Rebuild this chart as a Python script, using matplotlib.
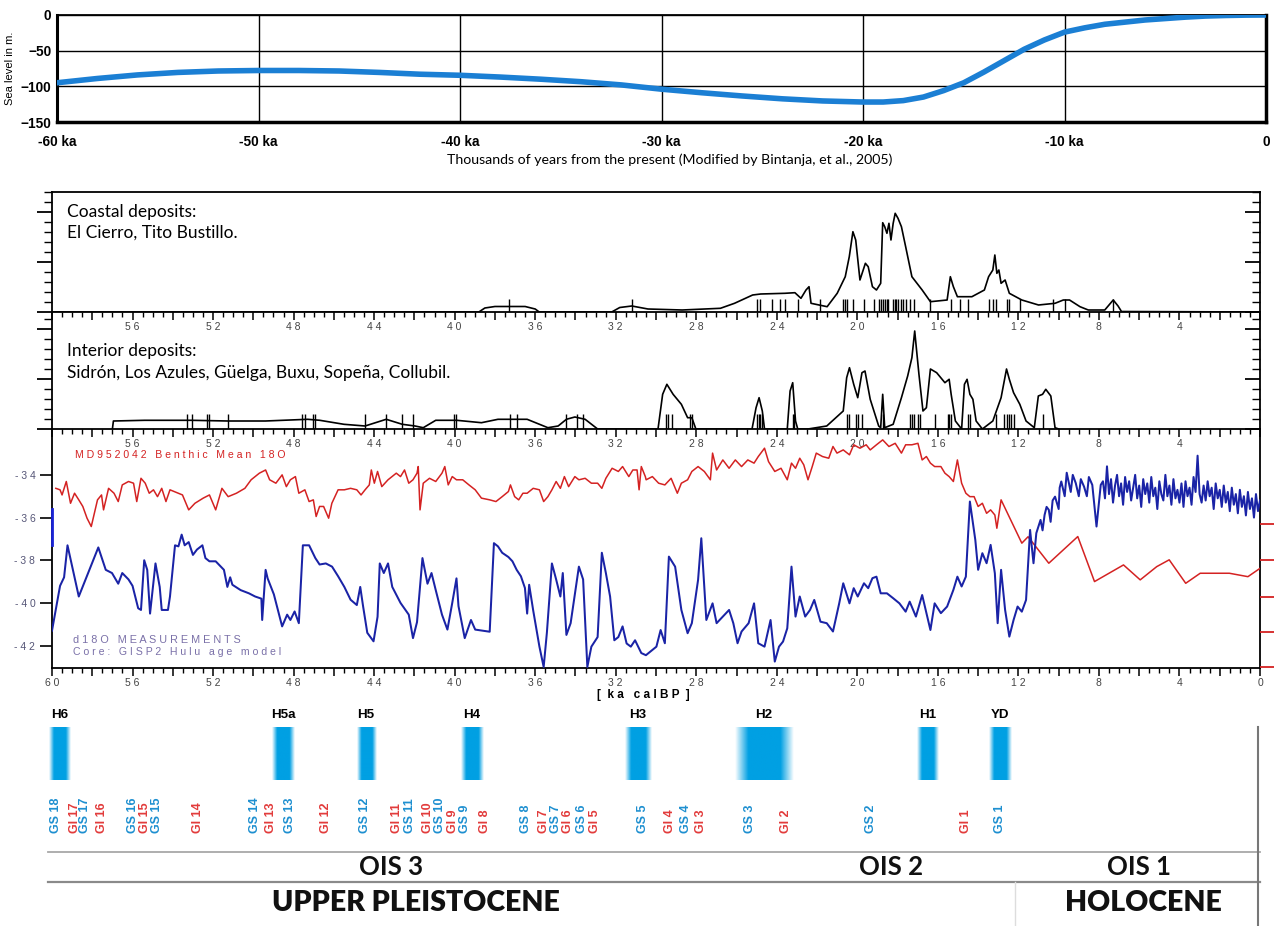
import numpy as np
import matplotlib
matplotlib.use("Agg")
import matplotlib.pyplot as plt
from matplotlib.ticker import MultipleLocator, FuncFormatter
from matplotlib.colors import to_rgb

# ---------------- DATA ----------------
# Sea level (Bintanja et al. 2005), ka (negative = before present), metres
sea_ka = [-60, -58, -56, -54, -52, -50, -48, -46, -44, -42, -40, -38, -36, -34, -32, -30,
          -28, -26, -24, -22, -20, -19, -18, -17, -16, -15, -14, -13, -12, -11, -10,
          -9, -8, -7, -6, -5, -4, -3, -2, -1, 0]
sea_m = [-95, -89, -84, -80.5, -78.5, -77.8, -77.8, -78.5, -80.5, -83, -84.5, -87, -90, -93.5, -98, -104,
         -109, -113.5, -117.5, -120.5, -122, -122, -120, -115, -106, -95, -80, -64, -48, -35, -24,
         -18, -13, -10, -7, -5, -3, -1.5, -0.7, -0.2, 0]
sea_ticks = [-60, -50, -40, -30, -20, -10, 0]
sea_ticklabels = ["-60 ka", "-50 ka", "-40 ka", "-30 ka", "-20 ka", "-10 ka", "0"]

# Coastal deposits: summed probability curve (relative units) and dates (ka cal BP)
coastal_curve = [(60.0, 0), (38.8, 0), (38.5, 0.4), (38.0, 0.55), (36.5, 0.55), (36.0, 0.3), (35.8, 0),
                 (32.2, 0), (31.8, 0.45), (31.2, 0.6), (30.8, 0.45), (30.4, 0.3), (28.7, 0.2), (26.8, 0.37),
                 (26.1, 0.87), (25.2, 1.7), (24.8, 1.8), (23.6, 1.87), (23.1, 1.93), (22.8, 1.37),
                 (22.55, 2.2), (22.4, 2.53), (22.3, 0.87), (21.9, 0.7), (21.5, 0.53), (21.0, 1.87),
                 (20.6, 3.53), (20.4, 5.53), (20.22, 8.03), (20.08, 7.2), (19.87, 3.2), (19.6, 4.87),
                 (19.46, 4.53), (19.25, 2.53), (19.05, 2.2), (18.84, 2.87), (18.74, 8.93), (18.64, 8.53),
                 (18.53, 7.87), (18.43, 8.87), (18.33, 7.2), (18.22, 8.87), (18.12, 9.87), (17.98, 9.37),
                 (17.81, 8.53), (17.6, 6.53), (17.29, 3.53), (16.78, 2.2), (16.37, 1.03), (15.54, 1.2),
                 (15.38, 3.53), (15.23, 2.53), (15.03, 1.53), (14.31, 1.53), (13.69, 2.2), (13.48, 3.53),
                 (13.27, 4.2), (13.17, 5.7), (13.07, 3.87), (12.97, 4.2), (12.86, 2.87), (12.66, 3.2),
                 (12.45, 1.87), (11.83, 1.2), (11.0, 0.7), (10.18, 0.87), (9.77, 1.2), (9.46, 1.2),
                 (8.94, 0.53), (8.53, 0.2), (7.71, 0.2), (7.5, 0.7), (7.29, 1.2), (7.05, 0.6), (6.88, 0.05),
                 (0.0, 0)]
coastal_dates = [37.3, 31.2, 24.96, 24.82, 24.24, 23.83, 23.58, 22.96, 21.83, 20.7, 20.59, 20.49, 20.24,
                 19.67, 19.15, 18.94, 18.8, 18.72, 18.64, 18.55, 18.47, 18.22, 18.14, 18.06, 17.98, 17.85,
                 17.73, 17.56, 17.36, 17.19, 16.37, 15.34, 14.92, 14.51, 13.48, 13.27, 13.11, 12.55, 12.45,
                 11.93, 10.28, 9.67, 7.29]

# Interior deposits
interior_curve = [(57.0, 0), (56.95, 0.8), (55.4, 0.87), (53.1, 0.87), (51.25, 0.8), (49.4, 0.8), (47.3, 0.97),
                  (46.7, 0.87), (45.5, 0.47), (44.45, 0.3), (43.4, 0.97), (42.6, 0.47), (41.97, 0.3),
                  (41.56, 0.13), (40.94, 0.87), (39.9, 0.87), (38.67, 0.63), (37.85, 0.97), (36.4, 0.97),
                  (35.37, 0.13), (34.86, 0.3), (34.45, 0.97), (34.03, 1.2), (33.52, 0.97), (32.9, 0),
                  (29.9, 0), (29.67, 3.47), (29.46, 4.47), (29.15, 3.47), (28.74, 2.47), (28.43, 1.13),
                  (28.22, 1.13), (28.02, 0), (25.23, 0), (25.03, 2.13), (24.88, 3.13), (24.72, 1.8),
                  (24.61, 0), (23.48, 0), (23.34, 3.8), (23.21, 4.63), (23.07, 0.8), (22.96, 0), (22.45, 0),
                  (21.52, 0.3), (20.7, 1.8), (20.53, 5.13), (20.39, 6.13), (20.18, 4.47), (19.98, 3.13),
                  (19.77, 5.63), (19.62, 5.8), (19.36, 2.97), (18.94, 0.3), (18.84, 0.13), (18.74, 3.47),
                  (18.64, 0.13), (18.22, 0.47), (17.81, 3.13), (17.5, 5.3), (17.29, 7.13), (17.15, 9.8),
                  (17.07, 8.13), (16.94, 5.47), (16.74, 1.8), (16.57, 2.13), (16.37, 6.0), (16.06, 5.63),
                  (15.65, 4.63), (15.44, 4.97), (15.34, 3.47), (15.13, 0.8), (14.82, 0), (14.68, 4.47),
                  (14.55, 4.97), (14.41, 3.47), (14.26, 2.97), (14.1, 0.8), (13.79, 0), (13.27, 0.8),
                  (12.86, 3.13), (12.59, 6.0), (12.45, 4.97), (12.24, 3.63), (11.93, 2.47), (11.62, 0.8),
                  (11.21, 0.13), (11.01, 3.3), (10.8, 3.47), (10.64, 3.97), (10.39, 3.3), (10.18, 0.13),
                  (10.0, 0)]
interior_dates = [53.31, 53.06, 52.28, 52.22, 51.25, 47.58, 47.44, 47.02, 46.92, 44.45, 43.42, 42.63, 42.07,
                  40.01, 39.91, 37.23, 36.92, 34.45, 33.93, 33.62, 29.52, 29.4, 29.19, 28.33, 28.22,
                  24.99, 24.9, 24.82, 24.74, 23.21, 23.13, 20.49, 20.39, 20.08, 19.98, 19.77, 18.74,
                  17.4, 17.3, 17.19, 16.99, 16.88, 16.12, 15.5, 15.44, 15.34, 14.51, 14.41, 13.11,
                  12.7, 12.55, 12.45, 12.35, 12.24, 10.8]

# MD952042 benthic d18O (plotted on the displayed scale)
red_benthic = [(59.81, -34.63), (59.6, -34.7), (59.5, -34.94), (59.29, -34.31), (59.08, -35.33), (58.88, -34.86),
               (58.67, -35.17), (58.47, -35.48), (58.26, -36.03), (58.05, -36.42), (57.74, -35.17), (57.54, -34.94),
               (57.44, -35.64), (57.19, -34.63), (56.92, -34.86), (56.71, -35.25), (56.51, -34.47), (56.2, -34.31),
               (55.95, -34.39), (55.79, -35.25), (55.58, -34.16), (55.37, -34.39), (55.17, -34.86), (54.96, -34.7),
               (54.76, -35.02), (54.55, -34.63), (54.34, -35.25), (54.14, -34.7), (53.93, -34.78), (53.52, -34.94),
               (53.21, -35.64), (52.9, -35.33), (52.49, -35.09), (52.18, -34.94), (51.87, -35.64), (51.56, -34.63),
               (51.25, -35.02), (50.84, -34.86), (50.42, -34.63), (50.11, -34.23), (49.7, -33.92), (49.39, -33.77),
               (49.19, -34.23), (48.88, -34.39), (48.57, -34.0), (48.36, -34.55), (48.16, -34.23), (47.91, -34.08),
               (47.74, -34.86), (47.44, -34.7), (47.23, -35.25), (47.02, -35.17), (46.88, -35.95), (46.71, -35.48),
               (46.51, -35.48), (46.26, -36.03), (46.1, -35.33), (45.79, -34.7), (45.48, -34.7), (45.17, -34.63),
               (44.86, -34.7), (44.65, -34.94), (44.45, -34.7), (44.24, -34.47), (44.14, -33.77), (43.99, -34.39),
               (43.83, -33.84), (43.62, -34.55), (43.31, -34.23), (42.9, -33.92), (42.69, -34.08), (42.49, -33.77),
               (42.28, -34.39), (42.07, -34.23), (41.87, -33.92), (41.81, -33.61), (41.72, -35.64), (41.56, -34.39),
               (41.25, -34.16), (40.94, -34.31), (40.63, -33.92), (40.49, -33.61), (40.32, -34.47), (40.12, -34.08),
               (39.91, -34.23), (39.6, -34.23), (39.29, -34.47), (38.98, -34.7), (38.67, -35.09), (38.26, -35.17),
               (37.95, -35.25), (37.64, -35.02), (37.33, -34.78), (37.23, -34.47), (37.02, -35.02), (36.82, -35.17),
               (36.61, -34.86), (36.4, -34.86), (36.1, -34.63), (35.79, -34.7), (35.58, -35.25), (35.37, -35.02),
               (35.17, -34.7), (34.96, -34.31), (34.75, -34.63), (34.55, -34.08), (34.34, -34.55), (34.03, -34.08),
               (33.83, -34.23), (33.52, -34.16), (33.21, -34.39), (32.9, -34.39), (32.69, -34.63), (32.49, -34.16),
               (32.18, -33.69), (31.87, -33.84), (31.66, -33.61), (31.35, -34.08), (31.15, -33.77), (30.94, -33.77),
               (30.84, -34.7), (30.73, -33.61), (30.53, -34.08), (30.49, -34.23), (30.18, -34.08), (29.87, -34.39),
               (29.56, -34.47), (29.25, -34.16), (28.94, -34.86), (28.74, -34.39), (28.43, -34.23), (28.22, -33.84),
               (27.91, -33.61), (27.6, -33.84), (27.3, -34.23), (27.19, -32.98), (26.99, -33.77), (26.68, -33.3),
               (26.37, -33.69), (26.06, -33.3), (25.75, -33.61), (25.44, -33.3), (25.13, -33.45), (24.92, -33.14),
               (24.61, -32.75), (24.41, -33.38), (24.1, -33.84), (23.79, -33.69), (23.48, -34.23), (23.27, -33.45),
               (23.07, -33.69), (22.86, -33.22), (22.66, -33.53), (22.45, -34.23), (22.24, -33.61), (22.04, -32.98),
               (21.73, -33.14), (21.42, -33.22), (21.21, -32.67), (21.01, -32.98), (20.7, -32.83), (20.39, -33.06),
               (20.18, -32.59), (19.87, -32.75), (19.56, -32.59), (19.36, -32.83), (19.05, -32.59), (18.74, -32.36),
               (18.43, -32.67), (18.12, -32.52), (17.81, -32.98), (17.6, -32.59), (17.29, -32.59), (16.99, -32.52),
               (16.78, -33.3), (16.57, -33.14), (16.37, -33.45), (16.16, -33.61), (15.85, -33.61), (15.65, -33.92),
               (15.44, -34.08), (15.23, -34.31), (15.03, -33.3), (14.82, -34.39), (14.61, -34.86), (14.41, -35.02),
               (14.2, -35.02), (14.0, -35.48), (13.79, -35.33), (13.58, -35.8), (13.38, -35.64), (13.17, -35.88),
               (13.07, -36.5), (12.86, -35.17), (11.83, -37.2), (11.52, -36.9), (10.49, -38.14), (9.05, -36.89),
               (8.22, -39.0), (6.78, -38.22), (5.95, -38.92), (5.13, -38.3), (4.51, -37.98), (3.69, -39.08),
               (2.97, -38.61), (1.52, -38.61), (0.6, -38.77), (0.0, -38.38)]
red_right_ticks = [-36.3, -38.0, -39.7, -41.35, -43.0]

# GISP2 d18O (Hulu age model)
blue_gisp2 = [(60.0, -41.3), (59.6, -39.2), (59.4, -38.8), (59.23, -37.3), (58.67, -39.7), (57.7, -37.4),
              (57.33, -38.45), (57.02, -38.6), (56.71, -39.1), (56.51, -38.6), (56.2, -38.9), (56.0, -39.2),
              (55.72, -40.25), (55.58, -40.33), (55.42, -38.0), (55.27, -38.45), (55.13, -40.5), (54.86, -38.15),
              (54.65, -39.25), (54.55, -40.33), (54.24, -40.33), (54.14, -39.7), (53.89, -37.3), (53.72, -37.35),
              (53.56, -36.8), (53.41, -37.3), (53.21, -37.15), (53.0, -37.75), (52.8, -37.5), (52.53, -37.3),
              (52.38, -37.9), (52.18, -38.05), (51.87, -38.05), (51.46, -38.45), (51.29, -39.25), (51.15, -38.8),
              (51.04, -39.15), (50.63, -39.4), (50.22, -39.55), (49.91, -39.7), (49.6, -39.8), (49.56, -40.8),
              (49.39, -38.45), (49.29, -38.85), (48.98, -39.6), (48.57, -41.1), (48.32, -40.55), (48.16, -40.8),
              (47.95, -40.4), (47.74, -40.95), (47.54, -37.3), (47.23, -37.3), (46.92, -37.9), (46.71, -38.2),
              (46.4, -38.15), (46.09, -38.3), (45.79, -38.75), (45.48, -39.25), (45.17, -39.85), (44.86, -40.1),
              (44.69, -39.25), (44.55, -40.15), (44.34, -41.4), (44.03, -41.8), (43.83, -40.65), (43.72, -38.15),
              (43.52, -38.6), (43.31, -38.15), (43.1, -39.25), (42.69, -40.0), (42.28, -40.55), (42.07, -41.65),
              (41.87, -40.9), (41.6, -37.9), (41.35, -39.1), (41.15, -38.6), (40.94, -39.4), (40.63, -40.55),
              (40.36, -41.25), (40.12, -40.0), (39.91, -38.85), (39.81, -40.15), (39.5, -41.65), (39.19, -40.8),
              (38.98, -41.25), (38.26, -41.35), (38.05, -37.2), (37.85, -37.35), (37.64, -37.65), (37.33, -37.85),
              (37.13, -38.05), (36.92, -38.45), (36.71, -38.75), (36.51, -39.3), (36.4, -40.5), (36.3, -39.15),
              (36.1, -40.35), (35.79, -42.05), (35.58, -43.0), (35.42, -41.4), (35.17, -38.15), (34.96, -38.9),
              (34.75, -39.7), (34.63, -38.6), (34.45, -41.5), (34.24, -40.95), (33.83, -38.3), (33.62, -38.9),
              (33.41, -43.0), (33.21, -42.05), (32.9, -41.6), (32.69, -37.65), (32.49, -38.6), (32.28, -39.7),
              (32.07, -41.75), (31.87, -41.6), (31.66, -41.1), (31.46, -41.9), (31.25, -42.05), (31.04, -41.75),
              (30.73, -42.35), (30.5, -42.45), (29.98, -42.05), (29.77, -41.27), (29.56, -41.89), (29.36, -37.83),
              (29.05, -38.3), (28.74, -40.33), (28.43, -41.42), (28.22, -40.95), (27.91, -38.92), (27.75, -36.97),
              (27.5, -40.8), (27.19, -40.02), (26.99, -40.95), (26.68, -40.64), (26.37, -40.33), (26.16, -40.95),
              (25.95, -41.89), (25.75, -41.34), (25.4, -40.95), (25.13, -40.02), (24.92, -41.89), (24.61, -42.05),
              (24.31, -40.8), (24.1, -42.75), (23.89, -42.05), (23.69, -41.81), (23.48, -41.19), (23.27, -38.3),
              (23.07, -40.64), (22.86, -39.7), (22.59, -40.64), (22.35, -40.33), (22.14, -39.86), (21.83, -40.88),
              (21.52, -40.95), (21.21, -41.34), (20.9, -40.02), (20.7, -39.08), (20.39, -40.02), (20.18, -39.31),
              (19.98, -39.7), (19.67, -39.08), (19.46, -39.31), (19.25, -38.84), (19.05, -38.77), (18.84, -39.55),
              (18.53, -39.55), (18.22, -39.78), (17.91, -40.02), (17.6, -40.41), (17.4, -39.94), (17.09, -40.64),
              (16.78, -39.63), (16.37, -41.27), (16.16, -40.02), (15.85, -40.48), (15.54, -40.17), (15.23, -39.39),
              (15.03, -38.77), (14.82, -39.23), (14.61, -38.77), (14.41, -35.25), (14.14, -37.05), (14.0, -38.45),
              (13.79, -37.67), (13.58, -38.14), (13.38, -37.28), (13.17, -38.61), (13.03, -40.95), (12.86, -38.45),
              (12.66, -40.33), (12.45, -41.58), (12.24, -40.8), (12.04, -40.17), (11.83, -40.41), (11.62, -39.86),
              (11.42, -36.58), (11.25, -38.14), (11.11, -36.73), (10.9, -36.11), (10.8, -36.6), (10.7, -35.88),
              (10.6, -35.5), (10.49, -35.64), (10.4, -36.2), (10.3, -35.2), (10.18, -35.02), (10.0, -35.6),
              (9.95, -34.6), (9.87, -34.31), (9.7, -35.0), (9.6, -33.9), (9.56, -34.08), (9.4, -34.8), (9.3, -34.0),
              (9.15, -34.39), (9.0, -35.0), (8.9, -34.2), (8.74, -34.55), (8.6, -35.0), (8.5, -34.1), (8.33, -34.47),
              (8.12, -36.42), (7.91, -34.47),
              (7.8, -34.3), (7.7, -35.1), (7.6, -33.6), (7.5, -34.9), (7.4, -34.2), (7.3, -35.3), (7.2, -34.5),
              (7.1, -34.0), (7.0, -35.0), (6.9, -34.4), (6.8, -35.4), (6.7, -34.1), (6.6, -34.8), (6.5, -34.3),
              (6.4, -35.2), (6.3, -34.6), (6.2, -34.0), (6.1, -35.1), (6.0, -34.5), (5.9, -35.5), (5.8, -34.2),
              (5.7, -34.9), (5.6, -34.4), (5.5, -35.3), (5.4, -34.1), (5.3, -35.0), (5.2, -34.6), (5.1, -35.6),
              (5.0, -34.3), (4.9, -34.9), (4.8, -35.2), (4.7, -34.0), (4.6, -35.0), (4.5, -34.5), (4.4, -35.4),
              (4.3, -34.2), (4.2, -35.1), (4.1, -34.7), (4.0, -35.3), (3.9, -34.4), (3.8, -35.5), (3.7, -34.3),
              (3.6, -35.0), (3.5, -34.6), (3.4, -35.4), (3.3, -34.1), (3.2, -34.8), (3.1, -33.1), (3.0, -34.9),
              (2.9, -35.3), (2.8, -34.5), (2.7, -35.2), (2.6, -34.3), (2.5, -35.0), (2.4, -34.6), (2.3, -35.6),
              (2.2, -34.4), (2.1, -35.1), (2.0, -34.7), (1.9, -35.5), (1.8, -34.5), (1.7, -35.3), (1.6, -34.8),
              (1.5, -35.7), (1.4, -34.6), (1.3, -35.4), (1.2, -34.9), (1.1, -35.8), (1.0, -34.7), (0.9, -35.5),
              (0.8, -35.0), (0.7, -35.9), (0.6, -34.8), (0.5, -35.6), (0.4, -35.1), (0.3, -36.0), (0.2, -34.9),
              (0.1, -35.7), (0.0, -35.2)]
iso_yticks = [-34, -36, -38, -40, -42]

# Heinrich events: label, centre (ka), width (ka)
heinrich_labels = ["H6", "H5a", "H5", "H4", "H3", "H2", "H1", "YD"]
heinrich_ka = [59.6, 48.5, 44.4, 39.15, 30.9, 24.64, 16.5, 12.92]
heinrich_width = [1.05, 1.1, 0.95, 1.1, 1.3, 2.9, 1.05, 1.1]

# Greenland stadials / interstadials
gsgi_labels = ["GS 18", "GI 17", "GS 17", "GI 16", "GS 16", "GI 15", "GS 15", "GI 14", "GS 14", "GI 13",
               "GS 13", "GI 12", "GS 12", "GI 11", "GS 11", "GI 10", "GS 10", "GI 9", "GS 9", "GI 8",
               "GS 8", "GI 7", "GS 7", "GI 6", "GS 6", "GI 5", "GS 5", "GI 4", "GS 4", "GI 3",
               "GS 3", "GI 2", "GS 2", "GI 1", "GS 1"]
gsgi_ka = [59.8, 58.87, 58.37, 57.53, 55.99, 55.39, 54.79, 52.76, 49.93, 49.13,
           48.19, 46.4, 44.46, 42.85, 42.2, 41.33, 40.74, 40.09, 39.49, 38.5,
           36.46, 35.57, 34.97, 34.38, 33.68, 33.04, 30.65, 29.31, 28.51, 27.77,
           25.34, 23.55, 19.32, 14.6, 12.92]

stage_labels = ["OIS 3", "OIS 2", "OIS 1"]
stage_ka = [43.17, 18.33, 6.0]
period_labels = ["UPPER PLEISTOCENE", "HOLOCENE"]
period_ka = [41.93, 5.81]
holocene_boundary_ka = 12.17

# ---------------- FIGURE ----------------
W, H = 1287, 926
fig = plt.figure(figsize=(W / 100, H / 100), dpi=100)
SANS = "Liberation Sans"


def box(l, t, r, b):
    ax = fig.add_axes([l / W, 1 - b / H, (r - l) / W, (b - t) / H])
    ax.set_facecolor("none")
    return ax


def ftext(x, y, s, **kw):
    fig.text(x / W, 1 - y / H, s, **kw)


def spaced(s):
    return " ".join(s)


spaced_fmt = FuncFormatter(lambda v, p: spaced(f"{v:g}"))


def x4_fmt(show_ends):
    def f(v, p):
        iv = int(round(v))
        if abs(v - iv) > 1e-6 or iv % 4:
            return ""
        if not show_ends and iv in (0, 60):
            return ""
        return spaced(str(iv))
    return FuncFormatter(f)


# ---- Panel 1: sea level ----
ax1 = box(57, 15, 1266, 122)
ax1.plot(sea_ka, sea_m, color="#1b7fd4", lw=4, solid_capstyle="round", zorder=3)
ax1.set_xlim(-60, 0)
ax1.set_ylim(-150, 0)
ax1.set_xticks(sea_ticks)
ax1.set_xticklabels(sea_ticklabels)
ax1.set_yticks([0, -50, -100, -150])
ax1.tick_params(length=0, labelsize=9.8, pad=9)
ax1.tick_params(axis="y", pad=4)
for lab in ax1.get_xticklabels() + ax1.get_yticklabels():
    lab.set_fontweight("bold")
    lab.set_fontfamily(SANS)
ax1.grid(True, color="black", lw=1)
for s, w in (("top", 1.3), ("bottom", 2.5), ("left", 2.2), ("right", 2.5)):
    ax1.spines[s].set_linewidth(w)
ax1.set_ylabel("Sea level in m.", fontsize=8, family=SANS, labelpad=4)
ftext(670, 160, "Thousands of years from the present (Modified by Bintanja, et al., 2005)",
      ha="center", va="center", fontsize=10.2, family="Lato")

L, R = 52, 1260


def ka_axis(ax, show_ends):
    ax.set_xlim(60, 0)
    ax.xaxis.set_major_locator(MultipleLocator(2))
    ax.xaxis.set_minor_locator(MultipleLocator(0.5))
    ax.xaxis.set_major_formatter(x4_fmt(show_ends))
    ax.tick_params(axis="x", which="major", direction="out", length=6, width=1.1, pad=1.5,
                   labelsize=7.5, labelcolor="#444")
    ax.tick_params(axis="x", which="minor", direction="out", length=3.5, width=1.0)
    for lab in ax.get_xticklabels():
        lab.set_fontfamily(SANS)


def side_ticks(ax, top):
    ax.set_ylim(0, top)
    ax.yaxis.set_major_locator(MultipleLocator(5))
    ax.yaxis.set_minor_locator(MultipleLocator(1))
    ax.yaxis.set_major_formatter(FuncFormatter(lambda v, p: ""))
    ax.tick_params(axis="y", which="major", direction="out", length=11, width=1.3)
    ax.tick_params(axis="y", which="minor", direction="out", length=6, width=1.0)
    tw = ax.twinx()
    tw.set_ylim(0, top)
    tw.yaxis.set_major_locator(MultipleLocator(5))
    tw.yaxis.set_minor_locator(MultipleLocator(1))
    tw.yaxis.set_major_formatter(FuncFormatter(lambda v, p: ""))
    tw.tick_params(axis="y", which="major", direction="in", length=11, width=1.3)
    tw.tick_params(axis="y", which="minor", direction="in", length=6, width=1.0)
    for s in tw.spines.values():
        s.set_visible(False)
    for s in ax.spines.values():
        s.set_linewidth(1.3)


# ---- Panel 2: coastal ----
ax2 = box(L, 192, R, 312)
ka_axis(ax2, show_ends=False)
side_ticks(ax2, 12)
cx, cy = zip(*coastal_curve)
ax2.plot(cx, cy, color="black", lw=1.2)
ax2.vlines(coastal_dates, 0, 1.3, color="black", lw=1.0)
ftext(67, 212, "Coastal deposits:", fontsize=12.5, family="Lato", va="center")
ftext(67, 233, "El Cierro, Tito Bustillo.", fontsize=12.5, family="Lato", va="center")

# ---- Panel 3: interior ----
ax3 = box(L, 312, R, 429)
ka_axis(ax3, show_ends=False)
side_ticks(ax3, 11.7)
ax3.spines["top"].set_visible(False)
ix, iy = zip(*interior_curve)
ax3.plot(ix, iy, color="black", lw=1.2)
ax3.vlines(interior_dates, 0, 1.5, color="black", lw=1.0)
ftext(67, 351, "Interior deposits:", fontsize=12.5, family="Lato", va="center")
ftext(67, 373, "Sidrón, Los Azules, Güelga, Buxu, Sopeña, Collubil.", fontsize=12.5, family="Lato",
      va="center")

# ---- Panel 4: isotopes ----
ax4 = box(L, 429, R, 668)
ax4.set_xlim(60, 0)
ax4.set_ylim(-43.05, -31.85)
ax4.spines["top"].set_visible(False)
for s in ("bottom", "left", "right"):
    ax4.spines[s].set_linewidth(1.3)
ax4.xaxis.set_major_locator(MultipleLocator(2))
ax4.xaxis.set_minor_locator(MultipleLocator(0.5))
ax4.xaxis.set_major_formatter(x4_fmt(True))
ax4.tick_params(axis="x", which="major", direction="out", length=6, width=1.1, pad=1.5,
                labelsize=7.5, labelcolor="#444")
ax4.tick_params(axis="x", which="minor", direction="out", length=3.5, width=1.0)
ax4.set_yticks(iso_yticks)
ax4.yaxis.set_major_formatter(spaced_fmt)
ax4.tick_params(axis="y", direction="out", length=9, width=1.2, labelsize=7.5, labelcolor="#555577", pad=3)
for lab in ax4.get_xticklabels() + ax4.get_yticklabels():
    lab.set_fontfamily(SANS)
rx, ry = zip(*red_benthic)
ax4.plot(rx, ry, color="#d42222", lw=1.1, zorder=3)
bx, by = zip(*blue_gisp2)
ax4.plot(bx, by, color="#1a23a6", lw=1.45, zorder=4)
ax4.plot([60, 60], [-35.6, -37.3], color="#1a23d6", lw=2, clip_on=False, zorder=5)
tw4 = ax4.twinx()
tw4.set_ylim(ax4.get_ylim())
tw4.set_yticks(red_right_ticks)
tw4.set_yticklabels([])
tw4.tick_params(axis="y", direction="out", length=10, width=1.3, color="#d42222")
for s in tw4.spines.values():
    s.set_visible(False)
ftext(75, 455, spaced("MD952042 Benthic Mean 18O"), fontsize=7.6, color="#d42222", family=SANS,
      va="center")
ftext(73, 640, spaced("d18O MEASUREMENTS"), fontsize=7.8, color="#7a70a8", family=SANS, va="center")
ftext(73, 652, spaced("Core: GISP2 Hulu age model"), fontsize=7.6, color="#7a70a8", family=SANS,
      va="center")
ftext(643, 695, "[  k a   c a l B P  ]", fontsize=8.5, fontweight="bold", family=SANS, ha="center",
      va="center")

# ---- Bottom: events and stages ----
ax5 = box(L, 700, R, 926)
ax5.set_xlim(60, 0)
ax5.set_ylim(226, 0)
ax5.axis("off")
blue_rgb = to_rgb("#00a0e3")
u = np.linspace(-1, 1, 200)
alpha = np.clip((1 - np.abs(u)) * 2.2, 0, 1)
grad = np.zeros((1, u.size, 4))
grad[0, :, :3] = blue_rgb
grad[0, :, 3] = alpha
for lab, c, w in zip(heinrich_labels, heinrich_ka, heinrich_width):
    ax5.imshow(grad, extent=[c + w / 2, c - w / 2, 80, 27], aspect="auto", interpolation="bilinear",
               clip_on=False, zorder=2)
    ax5.text(c, 15, lab, ha="center", va="center", fontsize=9.6, fontweight="bold", family=SANS)
ax5.set_xlim(60, 0)
ax5.set_ylim(226, 0)
for lab, c in zip(gsgi_labels, gsgi_ka):
    col = "#1d8fd0" if lab.startswith("GS") else "#e23b3b"
    ax5.text(c, 133, lab, rotation=90, ha="center", va="bottom", fontsize=9, fontweight="bold",
             family=SANS, color=col)
ax5.plot([60.2, 0], [152, 152], color="#a8a8a8", lw=1.3, clip_on=False)
ax5.plot([60.2, 0], [182, 182], color="#8a8a8a", lw=1.6, clip_on=False)
ax5.plot([holocene_boundary_ka] * 2, [182, 226], color="#dddddd", lw=1.0, clip_on=False)
ax5.plot([0.1, 0.1], [27, 226], color="#777777", lw=1.5, clip_on=False)
for lab, c in zip(stage_labels, stage_ka):
    ax5.text(c, 167, lab, ha="center", va="center", fontsize=18.5, fontweight="bold", family="Lato",
             color="#111")
for lab, c in zip(period_labels, period_ka):
    ax5.text(c, 203, lab, ha="center", va="center", fontsize=20.5, fontweight="heavy", family="Lato",
             color="#111")

fig.savefig("out.png", dpi=100)
